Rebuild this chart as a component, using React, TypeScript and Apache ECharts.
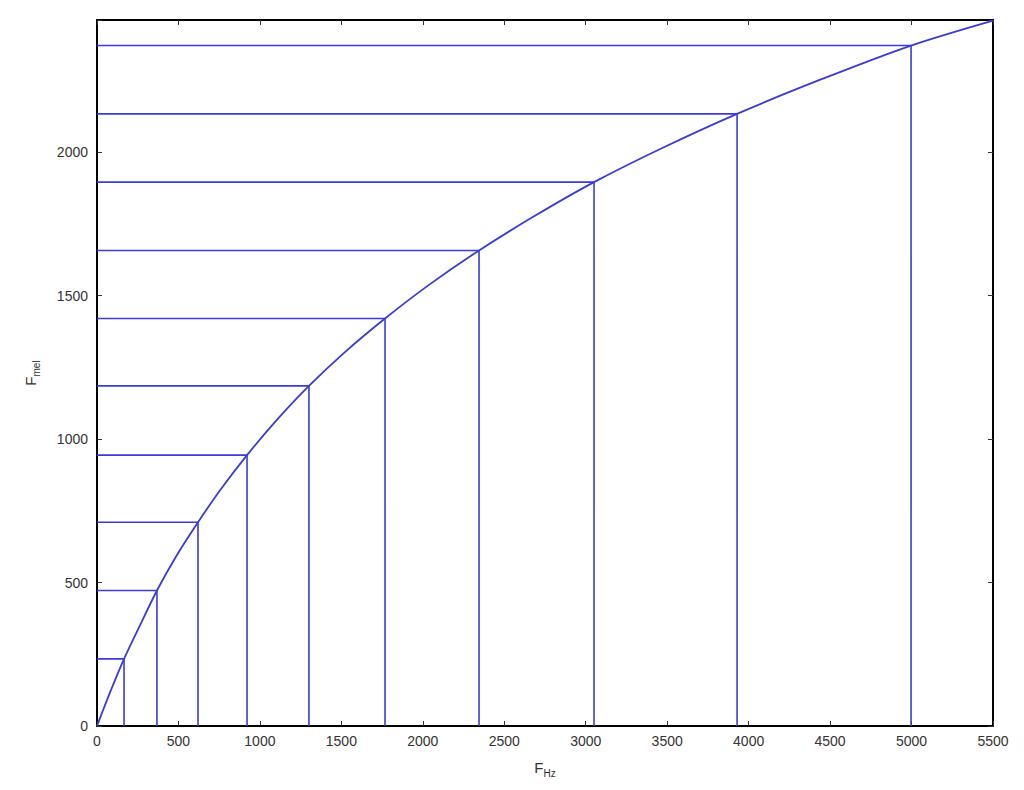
import React, { useEffect, useRef } from "react";
import * as echarts from "echarts";

const xTicks = [0, 500, 1000, 1500, 2000, 2500, 3000, 3500, 4000, 4500, 5000, 5500];
const yTicks = [0, 500, 1000, 1500, 2000];
// filter centre frequencies (Hz) and their mel values
const dropHz = [166, 368, 620, 921, 1301, 1768, 2345, 3051, 3929, 4997];
const dropMel = [234, 472, 710, 944, 1185, 1420, 1657, 1895, 2133, 2371];
// curve points
const curveHz = [0, 80, 166, 260, 368, 490, 620, 760, 921, 1100, 1301, 1520, 1768, 2040, 2345, 2680, 3051, 3470, 3929, 4440, 4997, 5500];
const curveMel = [0, 117, 234, 346, 472, 595, 710, 825, 944, 1064, 1185, 1302, 1420, 1538, 1657, 1775, 1895, 2014, 2133, 2252, 2371, 2458];

const BLUE = "#3b3bd9";

export default function App() {
  const ref = useRef<HTMLDivElement>(null);
  useEffect(() => {
    document.body.style.margin = "0";
    const chart = echarts.init(ref.current!, null, { renderer: "svg" });
    const font = "'Liberation Sans', Arial, sans-serif";
    const axisLine = { show: true, onZero: false, lineStyle: { color: "#000", width: 2 } };
    const tick = { show: true, inside: true, length: 5, lineStyle: { color: "#333", width: 1 } };
    const drops = dropHz.map((hz, i) => ({
      type: "line",
      data: [[0, dropMel[i]], [hz, dropMel[i]], [hz, 0]],
      showSymbol: false,
      symbol: "none",
      lineStyle: { color: BLUE, width: 1.6 },
      z: 2,
    }));
    chart.setOption({
      animation: false,
      grid: { left: 97, right: 31, top: 20, bottom: 64 },
      xAxis: [
        {
          type: "value",
          min: 0,
          max: 5500,
          interval: 500,
          axisLine,
          axisTick: tick,
          splitLine: { show: false },
          axisLabel: { color: "#333", fontSize: 14, fontFamily: font, margin: 8, formatter: (v: number) => (xTicks.includes(v) ? String(v) : "") },
          name: "{f|F}{s|Hz}",
          nameLocation: "middle",
          nameGap: 30,
          nameTextStyle: {
            rich: {
              f: { fontSize: 15, color: "#333", fontFamily: font },
              s: { fontSize: 10, color: "#333", fontFamily: font, padding: [12, 0, 0, 0] },
            },
          },
        },
        {
          type: "value",
          position: "top",
          min: 0,
          max: 5500,
          interval: 500,
          axisLine,
          axisTick: tick,
          axisLabel: { show: false },
          splitLine: { show: false },
        },
      ],
      yAxis: [
        {
          type: "value",
          min: 0,
          max: 2460,
          interval: 500,
          axisLine,
          axisTick: tick,
          splitLine: { show: false },
          axisLabel: { color: "#333", fontSize: 14, fontFamily: font, margin: 9, formatter: (v: number) => (yTicks.includes(v) ? String(v) : "") },
          name: "{f|F}{s|mel}",
          nameLocation: "middle",
          nameGap: 56,
          nameTextStyle: {
            rich: {
              f: { fontSize: 15, color: "#333", fontFamily: font },
              s: { fontSize: 10, color: "#333", fontFamily: font, padding: [12, 0, 0, 0] },
            },
          },
        },
        {
          type: "value",
          position: "right",
          min: 0,
          max: 2460,
          interval: 500,
          axisLine,
          axisTick: tick,
          axisLabel: { show: false },
          splitLine: { show: false },
        },
      ],
      series: [
        ...drops,
        {
          type: "line",
          data: curveHz.map((h, i) => [h, curveMel[i]]),
          smooth: 0.3,
          showSymbol: false,
          symbol: "none",
          lineStyle: { color: BLUE, width: 1.8 },
          z: 3,
        },
      ],
    });
    return () => chart.dispose();
  }, []);
  return <div ref={ref} style={{ width: 1024, height: 790 }} />;
}
